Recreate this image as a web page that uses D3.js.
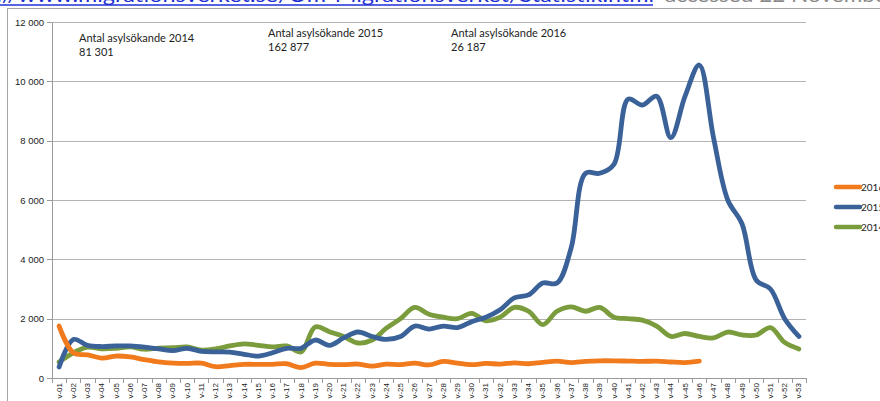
<!DOCTYPE html>
<head>
<meta charset="UTF-8">
<script src="https://cdn.jsdelivr.net/npm/d3@7"></script>
<style>
body { margin: 0; background: #fff; overflow: hidden; }
svg { display: block; font-family: Lato, "Open Sans", sans-serif; }
.grid line { stroke: #b3b3b3; stroke-width: 1px; }
.axis path, .axis line { stroke: #9a9a9a; shape-rendering: crispEdges; }
.axis text { fill: #222; }
.series { fill: none; stroke-width: 4.8px; stroke-linejoin: round; stroke-linecap: round; }
.note { font-size: 11px; fill: #222; }
</style>
</head>
<body>
<script>

var width = 880,
    height = 401;

var weeks = d3.range(1, 54).map(function(d) { return "v-" + (d < 10 ? "0" + d : d); });

var yTicks = [0, 2000, 4000, 6000, 8000, 10000, 12000];

var v2014 = [540, 850, 1040, 980, 1000, 1050, 970, 1010, 1020, 1050,
             940, 980, 1080, 1150, 1100, 1050, 1080, 880, 1720, 1560,
             1400, 1180, 1280, 1680, 2000, 2380, 2150, 2050, 2000, 2180,
             1930, 2050, 2380, 2250, 1800, 2250, 2400, 2250, 2380, 2050,
             2000, 1950, 1750, 1400, 1500, 1400, 1350, 1550, 1450, 1450,
             1700, 1200, 980];

var v2015 = [370, 1300, 1100, 1060, 1080, 1080, 1040, 980, 920, 1000,
             900, 880, 870, 800, 740, 850, 1000, 1000, 1280, 1100,
             1350, 1550, 1400, 1300, 1400, 1750, 1650, 1750, 1700, 1900,
             2050, 2300, 2700, 2800, 3200, 3200, 4400, 6900, 6900, 7200,
             9400, 9200, 9500, 8100, 9500, 10550, 8100, 6000, 5200, 3300,
             3000, 2000, 1400];

var v2016 = [1750, 850, 780, 670, 740, 710, 620, 540, 500, 490,
             500, 380, 420, 460, 460, 460, 480, 350, 500, 460,
             450, 470, 400, 470, 450, 500, 440, 560, 500, 450,
             490, 470, 510, 480, 530, 570, 520, 560, 580, 580,
             570, 560, 570, 540, 520, 570];

var series = [
  { name: "2016", values: v2016, color: "#f07a1c" },
  { name: "2015", values: v2015, color: "#3a6298" },
  { name: "2014", values: v2014, color: "#7a9c3c" }
];

var notes = [
  { title: "Antal asylsökande 2014", total: "81 301", x: 79, y: 42 },
  { title: "Antal asylsökande 2015", total: "162 877", x: 268, y: 37 },
  { title: "Antal asylsökande 2016", total: "26 187", x: 451, y: 37 }
];

var x = d3.scaleBand().domain(weeks).range([52, 806]);
var y = d3.scaleLinear().domain([0, 12000]).range([378, 22]);

var svg = d3.select("body").append("svg")
    .attr("width", width)
    .attr("height", height);

// source line, mostly above the top edge
var src = svg.append("g");
src.append("text")
    .attr("x", -4)
    .attr("y", 2)
    .attr("textLength", 658)
    .attr("lengthAdjust", "spacingAndGlyphs")
    .style("font-size", "20px")
    .style("fill", "#1f2fd6")
    .text("://www.migrationsverket.se/Om-Migrationsverket/Statistik.html");
src.append("line")
    .attr("x1", 0).attr("x2", 653)
    .attr("y1", 5).attr("y2", 5)
    .attr("stroke", "#1f2fd6")
    .attr("stroke-width", 1.5);
src.append("text")
    .attr("x", 665)
    .attr("y", 2)
    .attr("textLength", 230)
    .attr("lengthAdjust", "spacingAndGlyphs")
    .style("font-size", "20px")
    .style("fill", "#8a8a8a")
    .text("accessed 22 November");

// chart frame
svg.append("rect")
    .attr("x", 7.5).attr("y", 8.5)
    .attr("width", 900).attr("height", 420)
    .attr("fill", "none")
    .attr("stroke", "#a6a6a6");

svg.append("g")
    .attr("class", "grid")
  .selectAll("line")
    .data(yTicks.slice(1))
  .enter().append("line")
    .attr("x1", 52).attr("x2", 806)
    .attr("y1", function(d) { return Math.round(y(d)) + 0.5; })
    .attr("y2", function(d) { return Math.round(y(d)) + 0.5; });

var yAxis = svg.append("g")
    .attr("class", "axis")
    .attr("transform", "translate(52,0)")
    .call(d3.axisLeft(y).tickValues(yTicks).tickSize(5).tickSizeOuter(0)
      .tickFormat(function(d) { return d3.format(",")(d).replace(",", " "); }));
yAxis.selectAll("text").style("font-size", "9.5px").attr("x", -8);

var xAxis = svg.append("g")
    .attr("class", "axis")
    .attr("transform", "translate(0,378)")
    .call(d3.axisBottom(x).tickSize(0).tickSizeOuter(0));
xAxis.selectAll("text")
    .style("font-size", "8px")
    .style("text-anchor", "end")
    .attr("dy", "0.32em")
    .attr("transform", "translate(0,5) rotate(-90)")
    .attr("x", 0).attr("y", 0);

// tick marks between categories
svg.append("g")
  .selectAll("line")
    .data(weeks.concat(["end"]))
  .enter().append("line")
    .attr("x1", function(d, i) { return Math.round(52 + i * x.bandwidth()) + 0.5; })
    .attr("x2", function(d, i) { return Math.round(52 + i * x.bandwidth()) + 0.5; })
    .attr("y1", 378).attr("y2", 383)
    .attr("stroke", "#9a9a9a");

var line = d3.line()
    .x(function(d, i) { return x(weeks[i]) + x.bandwidth() / 2; })
    .y(function(d) { return y(d); })
    .curve(d3.curveCatmullRom.alpha(0.5));

svg.selectAll(".series")
    .data(series.slice().reverse())
  .enter().append("path")
    .attr("class", "series")
    .attr("stroke", function(d) { return d.color; })
    .attr("d", function(d) { return line(d.values); });

var note = svg.selectAll(".noteg")
    .data(notes)
  .enter().append("g");
note.append("text")
    .attr("class", "note")
    .attr("x", function(d) { return d.x; })
    .attr("y", function(d) { return d.y; })
    .text(function(d) { return d.title; });
note.append("text")
    .attr("class", "note")
    .attr("x", function(d) { return d.x; })
    .attr("y", function(d) { return d.y + 14; })
    .text(function(d) { return d.total; });

var legend = svg.selectAll(".legend")
    .data(series)
  .enter().append("g")
    .attr("transform", function(d, i) { return "translate(836," + (187 + i * 20) + ")"; });
legend.append("line")
    .attr("x1", 0).attr("x2", 24)
    .attr("stroke", function(d) { return d.color; })
    .attr("stroke-width", 4.5)
    .attr("stroke-linecap", "round");
legend.append("text")
    .attr("x", 25)
    .attr("dy", "0.35em")
    .style("font-size", "10px")
    .style("fill", "#222")
    .text(function(d) { return d.name; });

</script>
</body>
